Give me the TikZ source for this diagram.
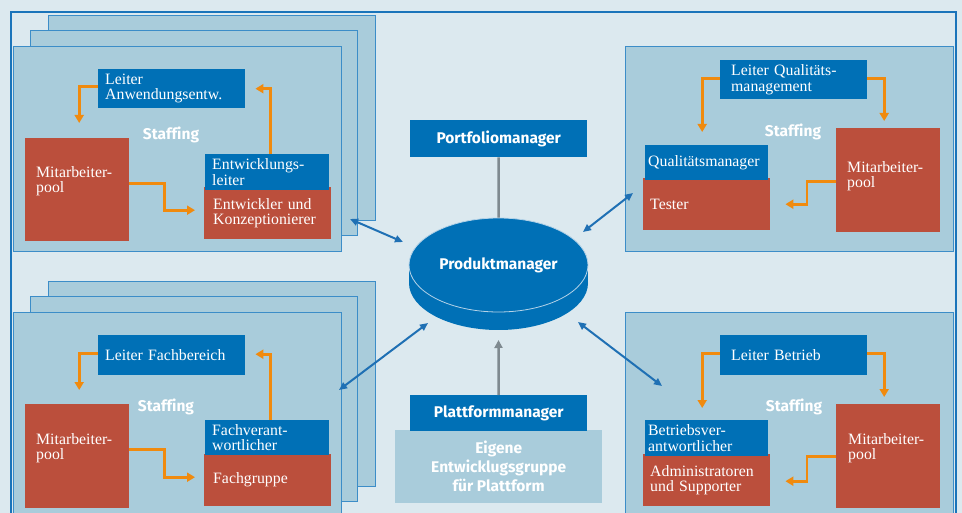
\documentclass[tikz,border=0pt]{standalone}
\usepackage{fontspec}
\setmainfont{Liberation Serif}
\newfontfamily\hsans[Ligatures=CommonOff]{Fira Sans}
\usetikzlibrary{arrows.meta,shapes.geometric}
\definecolor{bgc}{HTML}{DCE9EF}
\definecolor{panelc}{HTML}{A9CCDB}
\definecolor{pborder}{HTML}{3C8DC8}
\definecolor{boxblue}{HTML}{0070B6}
\definecolor{boxred}{HTML}{BB4F3C}
\definecolor{orangec}{HTML}{F08A0E}
\definecolor{arrblue}{HTML}{1F70B4}
\definecolor{frameblue}{HTML}{1A74BA}
\definecolor{grayc}{HTML}{7F8A90}
\definecolor{rimc}{HTML}{B5D3E8}
\newcommand\serifsz{\fontsize{15.8}{15.5}\selectfont}
\newcommand\sanssz{\hsans\bfseries\fontsize{15.5}{19}\selectfont}
\begin{document}
\begin{tikzpicture}[x=1pt,y=-1pt,
  panel/.style={draw=pborder,line width=1pt,fill=panelc,anchor=north west,inner sep=0pt},
  bb/.style={fill=boxblue,text=white,anchor=north west,inner xsep=7pt,inner ysep=0pt,align=left,font=\serifsz},
  rb/.style={fill=boxred,anchor=north west,inner sep=0pt},
  rbt/.style={fill=boxred,text=white,anchor=north west,inner xsep=9pt,inner ysep=0pt,align=left,font=\serifsz},
  txt/.style={text=white,anchor=north west,inner sep=0pt,align=left,font=\serifsz},
  hd/.style={text=white,font=\sanssz,inner sep=0pt},
  cbox/.style={fill=boxblue,text=white,font=\sanssz,anchor=north west,inner sep=0pt},
  oarr/.style={draw=orangec,line width=2.8pt,-{Triangle[length=8pt,width=9pt]}},
  barr/.style={draw=arrblue,line width=2pt,{Triangle[length=8pt,width=7pt]}-{Triangle[length=8pt,width=7pt]}},
  gline/.style={draw=grayc,line width=2.5pt},
  garr/.style={draw=grayc,line width=2.5pt,-{Triangle[length=8pt,width=8pt]}},
  frame/.style={draw=frameblue,line width=2pt}
]
\useasboundingbox (0,0) rectangle (962,513);
\clip (0,0) rectangle (962,513);
\fill[bgc] (0,0) rectangle (962,513);
\draw[frame] (11,530) -- (11,12) -- (955.5,12) -- (955.5,530);

% ---------- top-left stack ----------
\node[panel,minimum width=327pt,minimum height=205pt] (tl3) at (48,15) {};
\node[panel,minimum width=327pt,minimum height=205pt] (tl2) at (30,30) {};
\node[panel,minimum width=328pt,minimum height=205pt] (tl1) at (13,46) {};
\node[bb,minimum width=147pt,minimum height=39pt,text width=133pt] (la1) at (98,69) {Leiter\\Anwendungsentw.};
\node[hd] (st1) at (171,135) {Staffing};
\node[rb,minimum width=104pt,minimum height=103pt] (mp1) at (25,138) {};
\node[txt] (mpt1) at ([xshift=11pt,yshift=-28pt]mp1.north west) {Mitarbeiter-\\pool};
\node[rbt,minimum width=127pt,minimum height=52pt,text width=109pt] (eu1) at (204,187) {Entwickler und\\Konzeptionierer};
\node[bb,minimum width=124pt,minimum height=36pt,text width=110pt] (el1) at (205,154) {Entwicklungs-\\leiter};
\draw[oarr,shorten >=15pt] ([yshift=2pt]la1.west) -| ([xshift=2pt]mp1.north);
\draw[oarr,shorten >=9pt] ([yshift=6pt]mp1.east) -- ++(35,0) |- ([yshift=3pt]eu1.west);
\draw[oarr,shorten >=10pt] ([xshift=3pt]el1.north) |- (la1.east);

% ---------- bottom-left stack ----------
\node[panel,minimum width=327pt,minimum height=205pt] (bl3) at (48,281) {};
\node[panel,minimum width=327pt,minimum height=205pt] (bl2) at (30,296) {};
\node[panel,minimum width=328pt,minimum height=210pt] (bl1) at (13,312) {};
\node[bb,minimum width=147pt,minimum height=40pt,text width=133pt] (la2) at (98,335) {Leiter Fachbereich};
\node[hd] (st2) at (166,407) {Staffing};
\node[rb,minimum width=104pt,minimum height=104pt] (mp3) at (25,404) {};
\node[txt] (mpt3) at ([xshift=11pt,yshift=-29pt]mp3.north west) {Mitarbeiter-\\pool};
\node[rbt,minimum width=127pt,minimum height=52pt,text width=109pt] (fg) at (204,454) {Fachgruppe};
\node[bb,minimum width=124pt,minimum height=35pt,text width=110pt] (fv) at (205,420) {Fachverant-\\wortlicher};
\draw[oarr,shorten >=14pt] ([yshift=2pt]la2.west) -| ([xshift=2pt]mp3.north);
\draw[oarr,shorten >=9pt] ([yshift=7pt]mp3.east) -- ++(35,0) |- ([yshift=3pt]fg.west);
\draw[oarr,shorten >=10pt] ([xshift=3pt]fv.north) |- ([yshift=1pt]la2.east);

% ---------- top-right ----------
\node[panel,minimum width=328pt,minimum height=205pt] (tr) at (625,46) {};
\node[bb,minimum width=147pt,minimum height=39pt,text width=125pt,inner xsep=11pt] (lq) at (720,60) {Leiter Qualitäts-\\management};
\node[hd] (st3) at (793,132) {Staffing};
\node[rb,minimum width=104pt,minimum height=104pt] (mp2) at (836,128) {};
\node[txt] (mpt2) at ([xshift=11pt,yshift=-33pt]mp2.north west) {Mitarbeiter-\\pool};
\node[rbt,minimum width=127pt,minimum height=52pt,text width=113pt,inner xsep=7pt] (ts) at (643,178) {Tester};
\node[bb,minimum width=123pt,minimum height=35pt,text width=117pt,inner xsep=3pt] (qm) at (645,145) {Qualitätsmanager};
\draw[oarr,shorten >=13pt] ([yshift=1.5pt]lq.west) -| ([xshift=-4.5pt]qm.north);
\draw[oarr,shorten >=7pt] ([yshift=1.5pt]lq.east) -| ([xshift=-4pt]mp2.north);
\draw[oarr,shorten >=15pt] ([yshift=-1pt]mp2.west) -- ++(-29,0) |- (ts.east);

% ---------- bottom-right ----------
\node[panel,minimum width=328pt,minimum height=210pt] (br) at (625,312) {};
\node[bb,minimum width=147pt,minimum height=40pt,text width=125pt,inner xsep=11pt] (lb) at (720,335) {Leiter Betrieb};
\node[hd] (st4) at (794,407) {Staffing};
\node[rb,minimum width=104pt,minimum height=104pt] (mp4) at (836,404) {};
\node[txt] (mpt4) at ([xshift=12pt,yshift=-29pt]mp4.north west) {Mitarbeiter-\\pool};
\node[rbt,minimum width=127pt,minimum height=52pt,text width=113pt,inner xsep=7pt] (as) at (643,454) {Administratoren\\und Supporter};
\node[bb,minimum width=123pt,minimum height=36pt,text width=117pt,inner xsep=3pt] (bv) at (645,420) {Betriebsver-\\antwortlicher};
\draw[oarr,shorten >=12pt] ([yshift=2pt]lb.west) -| ([xshift=-4.5pt]bv.north);
\draw[oarr,shorten >=7pt] ([yshift=2pt]lb.east) -| ([xshift=-4pt]mp4.north);
\draw[oarr,shorten >=15pt] (mp4.west) -- ++(-29,0) |- ([yshift=-1pt]as.east);

% ---------- centre ----------
\node[cbox,minimum width=177pt,minimum height=37pt] (pf) at (410,120) {Portfoliomanager};
\fill[boxblue] (409,265) rectangle (588,283);
\node[ellipse,fill=boxblue,minimum width=179pt,minimum height=94pt,inner sep=0pt] (pmside) at (498.5,283) {};
\node[ellipse,fill=boxblue,draw=rimc,line width=0.8pt,minimum width=179pt,minimum height=94pt,inner sep=0pt,text=white,font=\sanssz] (pm) at (498.5,265) {Produktmanager};
\draw[gline] (pf.south) -- (pm.north);

\node[anchor=north west,fill=panelc,minimum width=207pt,minimum height=73pt,inner sep=0pt,text=white,font=\sanssz,align=center] (eg) at (395,430) {\rule{0pt}{12pt}Eigene\\Entwicklugsgruppe\\für Plattform};
\node[cbox,minimum width=177pt,minimum height=36pt] (plm) at (410,395) {Plattformmanager};
\coordinate (pmb) at (498.5,340);
\draw[garr] (plm.north) -- (pmb);

% ---------- blue double arrows ----------
\coordinate (a1) at (350,219);
\coordinate (b1) at (403,242);
\coordinate (a2) at (583,232);
\coordinate (b2) at (633,193);
\coordinate (a3) at (339,390);
\coordinate (b3) at (428,323);
\coordinate (a4) at (578,322);
\coordinate (b4) at (662,386);
\draw[barr] (a1) -- (b1);
\draw[barr] (a2) -- (b2);
\draw[barr] (a3) -- (b3);
\draw[barr] (a4) -- (b4);
\end{tikzpicture}
\end{document}
